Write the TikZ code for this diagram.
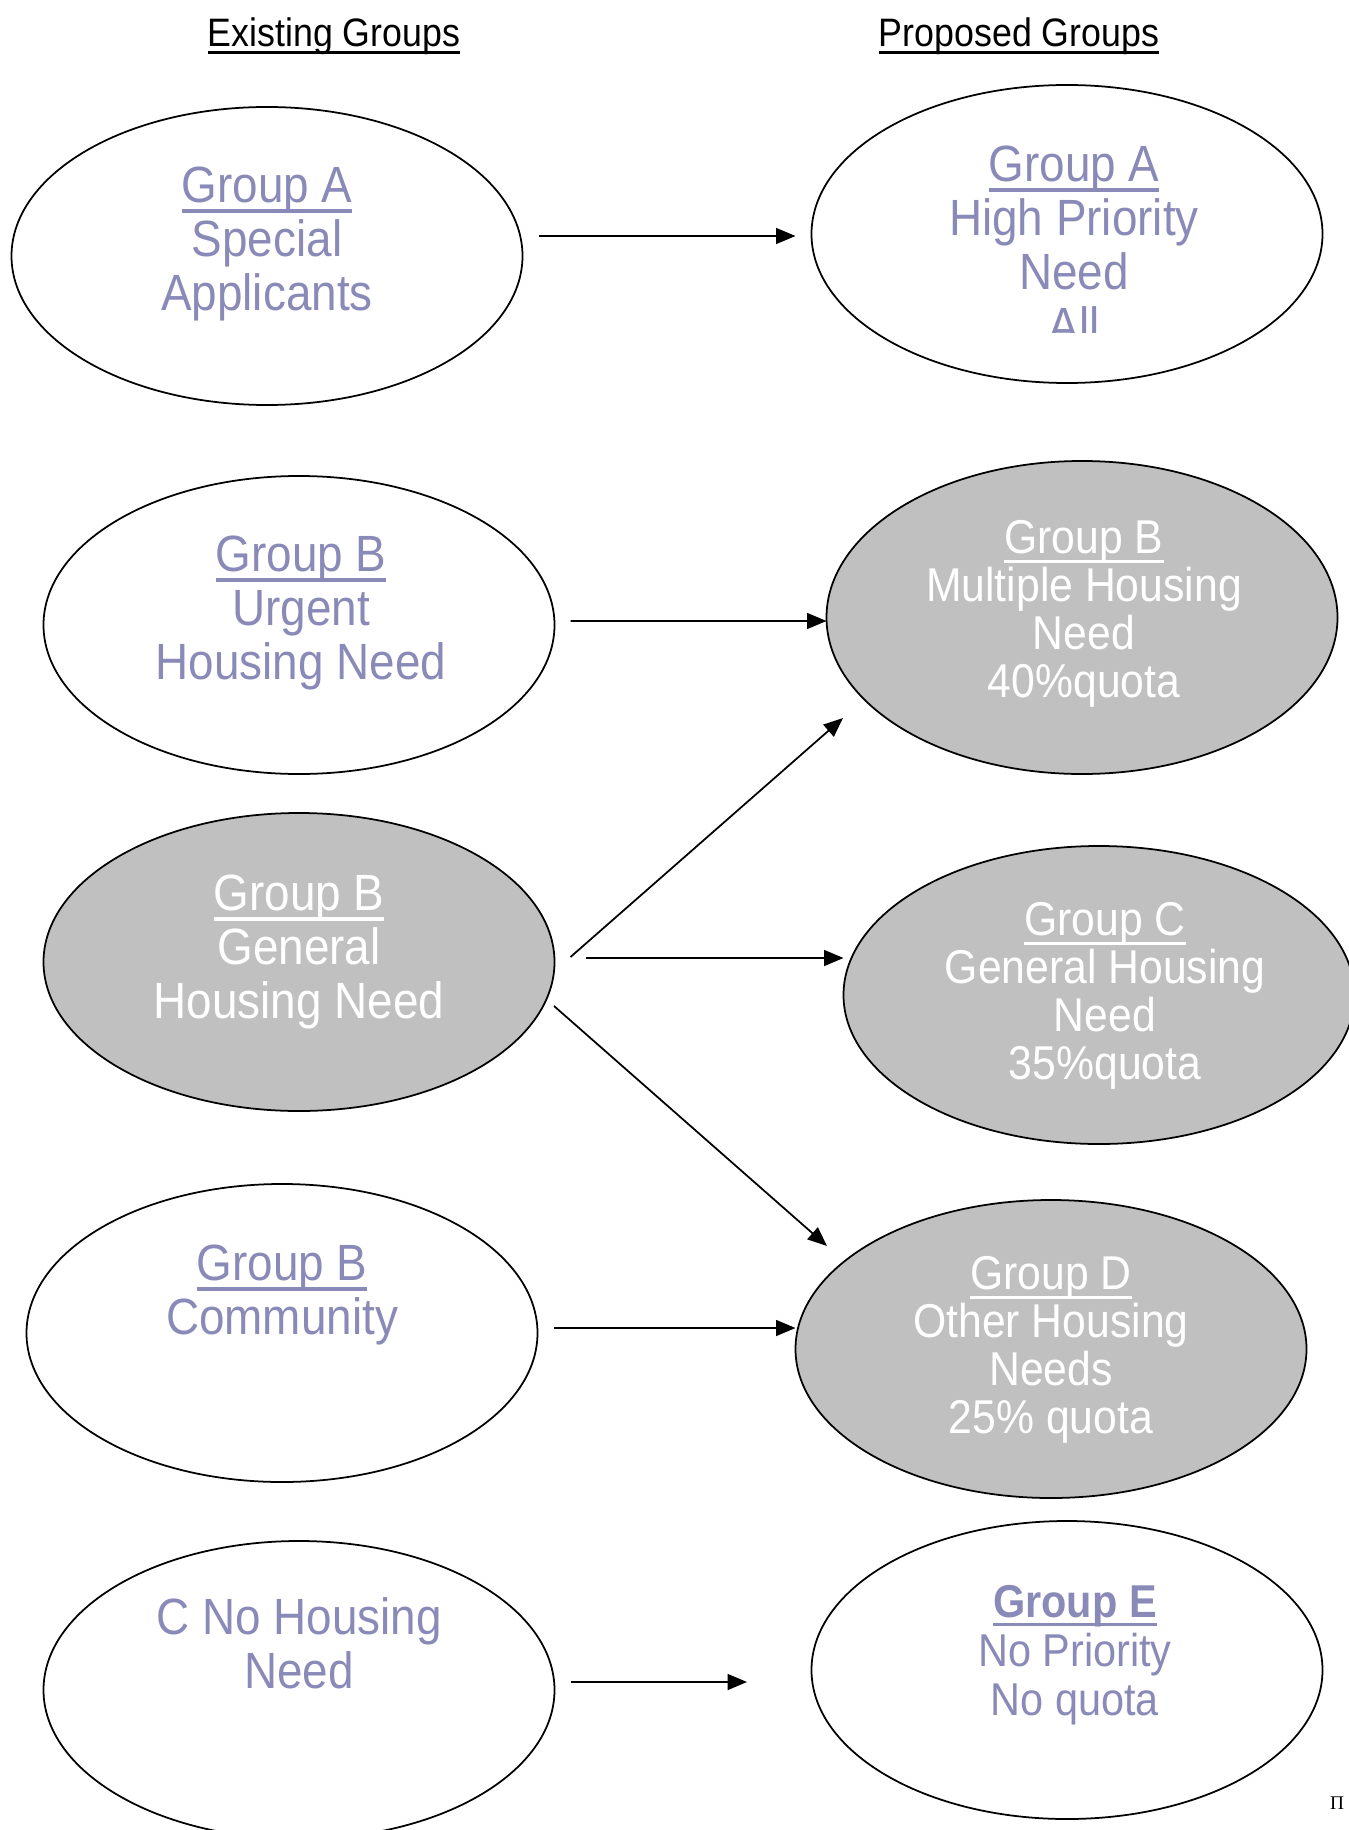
\documentclass[tikz,border=0pt]{standalone}
\usepackage{fontspec}
\setmainfont[FakeStretch=0.9]{Liberation Sans}
\newfontfamily\grkserif{Liberation Serif}
\usetikzlibrary{shapes.geometric,arrows.meta,calc}
\definecolor{lavtext}{RGB}{138,138,184}
\definecolor{grpgrey}{RGB}{192,192,192}
\newcommand{\ulin}[1]{\leavevmode\setbox0=\hbox{#1}\rlap{\rule[-0.2em]{\wd0}{0.07em}}\box0}

\begin{document}
\begin{tikzpicture}[x=0.2mm, y=0.2mm,
    grp/.style={ellipse, draw=black, line width=1pt, inner sep=0pt, outer sep=0pt,
      minimum width=10.22cm, minimum height=5.96cm},
    grpfill/.style={grp, fill=grpgrey},
    bigtxt/.style={align=center, inner sep=0pt, text=lavtext, font=\fontsize{29}{30.7}\selectfont},
    smalltxt/.style={align=center, inner sep=0pt, text=white, font=\fontsize{27}{27.3}\selectfont},
    lowtxt/.style={align=center, inner sep=0pt, text=lavtext, font=\fontsize{26.2}{27.9}\selectfont},
    head/.style={inner sep=0pt, font=\fontsize{22.6}{27}\selectfont},
    flow/.style={-{Triangle[length=11pt,width=9pt]}, line width=1pt}]
    \useasboundingbox (0,0) rectangle (1348,-1830);

    \node[head] (exhead) at (334,-36) {\ulin{Existing Groups}};
    \node[head] (prhead) at (1019,-36) {\ulin{Proposed Groups}};

    \node[grp] (l1) at (267,-256) {};
    \node[bigtxt] (l1t) at (267,-244) {\ulin{Group A}\\Special\\Applicants};
    \node[grp] (l2) at (299,-625) {};
    \node[bigtxt] (l2t) at (301,-613) {\ulin{Group B}\\Urgent\\Housing Need};
    \node[grpfill] (l3) at (299,-962) {};
    \node[bigtxt, text=white] (l3t) at (299,-952) {\ulin{Group B}\\General\\Housing Need};
    \node[grp] (l4) at (282,-1333) {};
    \node[bigtxt] (l4t) at (282,-1295) {\ulin{Group B}\\Community};
    \node[grp] (l5) at (299,-1690) {};
    \node[bigtxt] (l5t) at (299,-1643) {C No Housing\\Need};

    \node[grp] (r1) at (1067,-234) {};
    \begin{scope}
        \clip (800,-80) rectangle (1330,-333);
        \node[bigtxt] (r1t) at (1074,-245) {\ulin{Group A}\\High Priority\\Need\\All};
    \end{scope}
    \node[grpfill, minimum height=6.26cm] (r2) at (1082,-617.5) {};
    \node[smalltxt] (r2t) at (1084,-614) {\ulin{Group B}\\Multiple Housing\\Need\\40\%quota};
    \node[grpfill] (r3) at (1099,-995) {};
    \node[smalltxt] (r3t) at (1105,-996) {\ulin{Group C}\\General Housing\\Need\\35\%quota};
    \node[grpfill] (r4) at (1051,-1349) {};
    \node[smalltxt] (r4t) at (1051,-1350) {\ulin{Group D}\\Other Housing\\Needs\\25\% quota};
    \node[grp] (r5) at (1067,-1670) {};
    \node[lowtxt] (r5t) at (1075,-1655) {\ulin{\bfseries Group E}\\No Priority\\No quota};

    \draw[flow] ($(l1.east)+(16,20)$) -- ($(r1.west)+(-16,-2)$);
    \draw[flow] ($(l2.east)+(16,4)$) -- ($(r2.west)+(0,-3.5)$);
    \draw[flow] ($(l3.east)+(16,5)$) -- ($(r2.center)+(-239,-100.5)$);
    \draw[flow] ($(l3.east)+(31,4)$) -- ($(r3.west)+(0,37)$);
    \draw[flow] ($(l3.center)+(255,-44)$) -- ($(r4.center)+(-224,103)$);
    \draw[flow] ($(l4.east)+(16,5)$) -- ($(r4.west)+(0,21)$);
    \draw[flow] ($(l5.east)+(16,8)$) -- ($(r5.west)+(-64.5,-12)$);

    \node[inner sep=0pt, font=\grkserif\fontsize{11}{13}\selectfont] (pimark) at (1337,-1803) {Π};
\end{tikzpicture}
\end{document}
